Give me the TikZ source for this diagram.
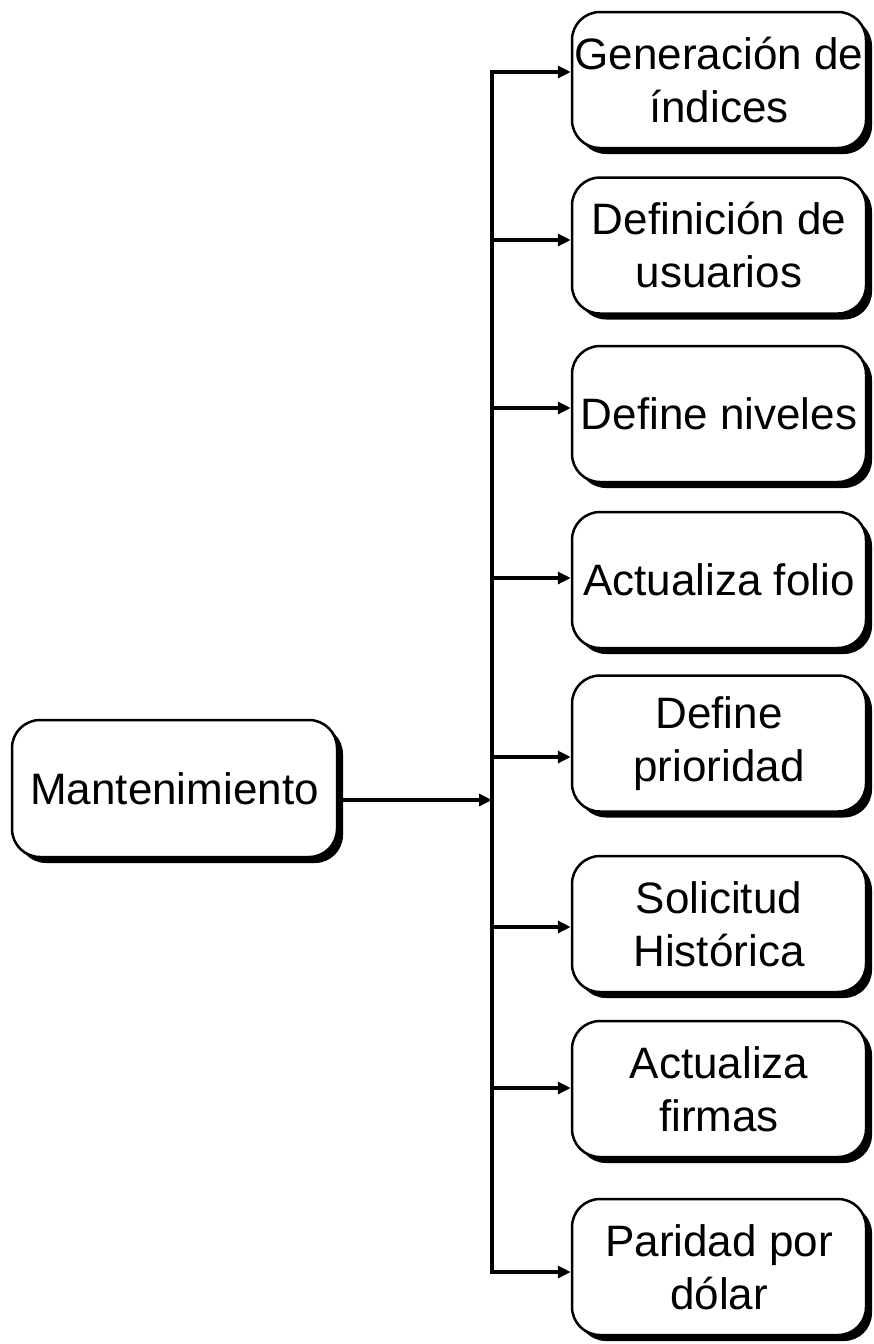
\documentclass[tikz,border=0pt]{standalone}
\usepackage{fontspec}
\setmainfont{Liberation Sans}
\usetikzlibrary{arrows.meta,shadows}

\tikzset{
  caja/.style={draw, line width=2.5pt, rounded corners=28pt, fill=white,
    align=center, inner sep=0pt, minimum width=294pt, minimum height=136pt,
    font=\fontsize{44}{53}\selectfont,
    drop shadow={shadow xshift=6pt, shadow yshift=-6pt, fill=black, opacity=1}},
  flecha/.style={line width=3.5pt, -{Triangle[length=13pt, width=12pt]}}
}

\begin{document}
\begin{tikzpicture}[x=1pt, y=-1pt]
\useasboundingbox (0,0) rectangle (873,1344);
% modulo principal
\node[caja, minimum width=325pt, minimum height=137pt] (mant) at (174.5,788.5) {Mantenimiento};
% submodulos
\foreach \n/\y/\ya/\txt in {1/80/72/{Generación de\\índices},
    2/245.5/240/{Definición de\\usuarios},
    3/414/408/{Define niveles},
    4/580/578/{Actualiza folio},
    5/743.5/757/{Define\\prioridad},
    6/924/927/{Solicitud\\Histórica},
    7/1089/1088/{Actualiza\\firmas},
    8/1267/1272/{Paridad por\\dólar}}{
  \node[caja] (b\n) at (719,\y) {\txt};
  \coordinate (j\n) at (492,\ya);
  \draw[flecha] (j\n) -- (j\n -| b\n.west);
}
% bus vertical
\draw[line width=3.5pt, line cap=rect] (j1) -- (j8);
\coordinate (jm) at (492,800);
\draw[flecha] (mant.east |- jm) -- (jm);
\end{tikzpicture}
\end{document}
